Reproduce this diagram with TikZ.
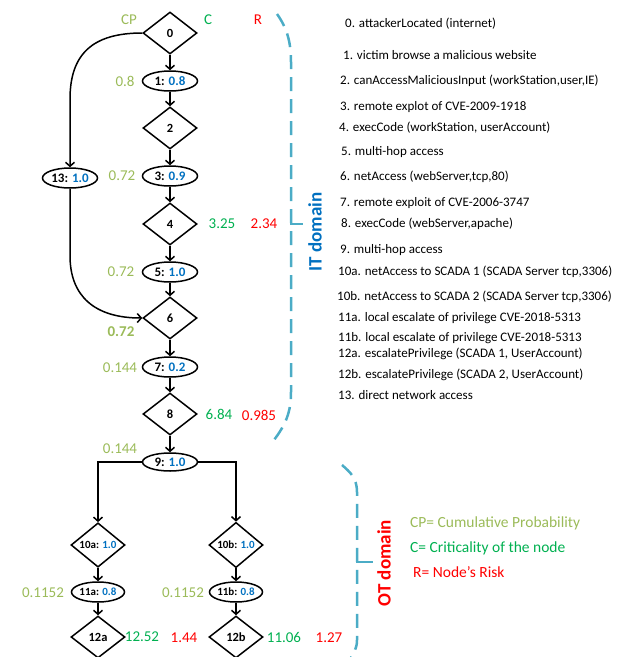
\documentclass[tikz,border=0pt]{standalone}
\usepackage{fontspec}
\setmainfont{Carlito}
\usetikzlibrary{shapes.geometric,arrows.meta}
\definecolor{cpc}{HTML}{9BBB59}
\definecolor{cc}{HTML}{00B050}
\definecolor{rc}{HTML}{FF0000}
\definecolor{nb}{HTML}{0070C0}
\definecolor{brc}{HTML}{4BACC6}
\tikzset{
  dia/.style={diamond, draw, line width=1.5pt, minimum width=54pt, minimum height=42pt, inner sep=0pt, font=\bfseries\fontsize{12.5}{13}\selectfont},
  ell/.style={ellipse, draw, line width=1.5pt, minimum width=55pt, minimum height=20pt, inner sep=0pt, font=\bfseries\fontsize{13}{14}\selectfont},
  smallf/.style={font=\bfseries\fontsize{11}{12}\selectfont},
  arr/.style={line width=1.5pt, -{Straight Barb[length=4pt,width=9pt,line width=1.5pt]}},
  cpl/.style={text=cpc, font=\fontsize{15}{17}\selectfont, inner sep=0pt},
  cl/.style={text=cc, font=\fontsize{15}{17}\selectfont, inner sep=0pt},
  rl/.style={text=rc, font=\fontsize{15}{17}\selectfont, inner sep=0pt},
  lst/.style={anchor=west, font=\fontsize{13}{15}\selectfont, inner sep=0pt},
  leg/.style={anchor=west, font=\fontsize{15.5}{17}\selectfont, inner sep=0pt},
  brace/.style={brc, line width=2.5pt, dash pattern=on 14pt off 8pt},
  tick/.style={brc, line width=2.5pt},
  dom/.style={rotate=90, font=\bfseries\fontsize{19}{21}\selectfont, inner sep=0pt}
}
\begin{document}
\begin{tikzpicture}[x=1pt,y=1pt]
\useasboundingbox (0,0) rectangle (621,-657);
% nodes
\node[dia] (n0) at (170,-33) {0};
\node[ell] (n1) at (170,-81) {1: \textcolor{nb}{0.8}};
\node[dia] (n2) at (170,-128) {2};
\node[ell] (n3) at (170,-176) {3: \textcolor{nb}{0.9}};
\node[dia] (n4) at (170,-224) {4};
\node[ell] (n5) at (170,-272) {5: \textcolor{nb}{1.0}};
\node[dia] (n6) at (170,-318) {6};
\node[ell] (n7) at (170,-367) {7: \textcolor{nb}{0.2}};
\node[dia] (n8) at (170,-414) {8};
\node[ell, minimum height=18pt] (n9) at (170,-462) {9: \textcolor{nb}{1.0}};
\node[ell] (n13) at (70,-178) {13: \textcolor{nb}{1.0}};
\node[dia, smallf] (n10a) at (98,-545) {10a: \textcolor{nb}{1.0}};
\node[dia, smallf] (n10b) at (236,-545) {10b: \textcolor{nb}{1.0}};
\node[ell, smallf, minimum width=53pt] (n11a) at (98,-592) {11a: \textcolor{nb}{0.8}};
\node[ell, smallf, minimum width=53pt] (n11b) at (236,-592) {11b: \textcolor{nb}{0.8}};
\node[dia] (n12a) at (98,-637) {12a};
\node[dia] (n12b) at (236,-637) {12b};
% edges
\draw[arr] (n0) -- (n1);
\draw[arr] (n1) -- (n2);
\draw[arr] (n2) -- (n3);
\draw[arr] (n3) -- (n4);
\draw[arr] (n4) -- (n5);
\draw[arr] (n5) -- (n6);
\draw[arr] (n6) -- (n7);
\draw[arr] (n7) -- (n8);
\draw[arr] (n8) -- (n9);
\draw[arr] (n0.west) .. controls +(-50,0) and +(0,45) .. ([yshift=68pt]n13.north) -- (n13.north);
\draw[arr] (n13.south) -- ++(0,-67) .. controls +(0,-40) and +(-48,0) .. (n6.west);
\draw[arr] (n9.west) -| (n10a.north);
\draw[arr] (n9.east) -| (n10b.north);
\draw[arr] (n10a) -- (n11a);
\draw[arr] (n10b) -- (n11b);
\draw[arr] (n11a) -- (n12a);
\draw[arr] (n11b) -- (n12b);
% header
\node[cpl] (hcp) at (129,-20) {CP};
\node[cl] (hc) at (208,-20) {C};
\node[rl] (hr) at (258,-20) {R};
% values
\node[cpl] (cp1) at (125,-81) {0.8};
\node[cpl] (cp3) at (122,-176) {0.72};
\node[cpl] (cp5) at (121,-272) {0.72};
\node[cpl, font=\bfseries\fontsize{15}{17}\selectfont] (cp6) at (121,-332) {0.72};
\node[cpl] (cp7) at (120,-368) {0.144};
\node[cpl] (cp9) at (120,-449) {0.144};
\node[cpl] (cp11a) at (43,-593) {0.1152};
\node[cpl] (cp11b) at (183,-593) {0.1152};
\node[cl] (c4) at (222,-224) {3.25};
\node[rl] (r4) at (264,-224) {2.34};
\node[cl] (c8) at (219,-414) {6.84};
\node[rl] (r8) at (259,-415) {0.985};
\node[cl] (c12a) at (142,-637) {12.52};
\node[rl] (r12a) at (184,-638) {1.44};
\node[cl] (c12b) at (284,-637) {11.06};
\node[rl] (r12b) at (329,-638) {1.27};
% list
\node[lst] (t0) at (345,-24) {0. attackerLocated (internet)};
\node[lst] (t1) at (343,-55) {1. victim browse a malicious website};
\node[lst] (t2) at (340,-81) {2. canAccessMaliciousInput (workStation,user,IE)};
\node[lst] (t3) at (340,-107) {3. remote explot of CVE-2009-1918};
\node[lst] (t4) at (339,-128) {4. execCode (workStation, userAccount)};
\node[lst] (t5) at (341,-152) {5. multi-hop access};
\node[lst] (t6) at (340,-177) {6. netAccess (webServer,tcp,80)};
\node[lst] (t7) at (340,-203) {7. remote exploit of CVE-2006-3747};
\node[lst] (t8) at (341,-224) {8. execCode (webServer,apache)};
\node[lst] (t9) at (340,-250) {9. multi-hop access};
\node[lst] (t10a) at (338,-272) {10a. netAccess to SCADA 1 (SCADA Server tcp,3306)};
\node[lst] (t10b) at (337,-297) {10b. netAccess to SCADA 2 (SCADA Server tcp,3306)};
\node[lst] (t11a) at (338,-318) {11a. local escalate of privilege CVE-2018-5313};
\node[lst] (t11b) at (338,-338) {11b. local escalate of privilege CVE-2018-5313};
\node[lst] (t12a) at (338,-354) {12a. escalatePrivilege (SCADA 1, UserAccount)};
\node[lst] (t12b) at (338,-375) {12b. escalatePrivilege (SCADA 2, UserAccount)};
\node[lst] (t13) at (338,-395) {13. direct network access};
% legend
\node[leg, text=cpc] (lg1) at (410,-523) {CP= Cumulative Probability};
\node[leg, text=cc] (lg2) at (410,-548) {C= Criticality of the node};
\node[leg, text=rc] (lg3) at (413,-572) {R= Node’s Risk};
% braces
\draw[brace] (277,-14) .. controls (287,-28) and (291,-42) .. (291,-62) -- (291,-392) .. controls (291,-412) and (286,-424) .. (274,-440);
\draw[tick] (291,-214) -- (291,-224) -- (303,-224);
\node[dom, text=nb] (itd) at (315,-232) {IT domain};
\draw[brace] (342,-465) .. controls (350,-472) and (357,-478) .. (357,-492) -- (357,-640) .. controls (357,-648) and (354,-654) .. (348,-662);
\draw[tick] (357,-552) -- (357,-562) -- (373,-562);
\node[dom, text=rc] (otd) at (384,-563) {OT domain};
\end{tikzpicture}
\end{document}
